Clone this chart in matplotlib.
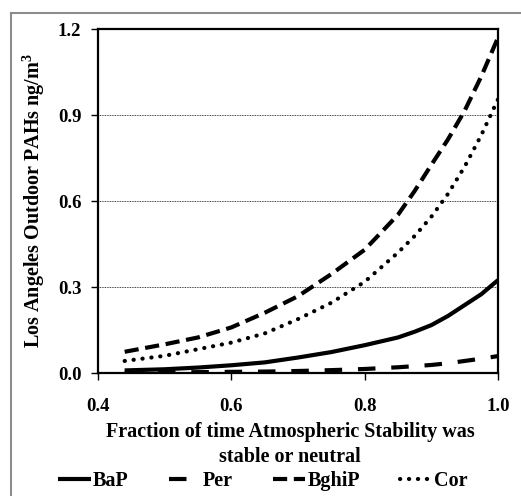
import matplotlib
matplotlib.use("Agg")
import matplotlib.pyplot as plt
from matplotlib.lines import Line2D

x = [0.44, 0.5, 0.55, 0.6, 0.65, 0.7, 0.75, 0.8, 0.85, 0.875, 0.9, 0.925, 0.95, 0.975, 1.0]
bap = [0.009, 0.013, 0.019, 0.027, 0.037, 0.054, 0.073, 0.097, 0.124, 0.144, 0.167, 0.199, 0.237, 0.275, 0.324]
per = [0.002, 0.002, 0.003, 0.004, 0.005, 0.007, 0.010, 0.014, 0.020, 0.024, 0.028, 0.034, 0.042, 0.050, 0.059]
bghip = [0.074, 0.100, 0.124, 0.159, 0.210, 0.268, 0.345, 0.430, 0.552, 0.635, 0.726, 0.815, 0.915, 1.035, 1.170]
cor = [0.042, 0.060, 0.083, 0.106, 0.138, 0.188, 0.245, 0.318, 0.420, 0.478, 0.545, 0.625, 0.720, 0.830, 0.955]

xticks = [0.4, 0.6, 0.8, 1.0]
yticks = [0.0, 0.3, 0.6, 0.9, 1.2]
xlabel = "Fraction of time Atmospheric Stability was\nstable or neutral"
ylabel = "Los Angeles Outdoor PAHs ng/m$^3$"

plt.rcParams['font.family'] = ['Liberation Serif', 'DejaVu Serif']
plt.rcParams['font.weight'] = 'bold'
plt.rcParams['mathtext.fontset'] = 'custom'
plt.rcParams['mathtext.rm'] = 'Liberation Serif:bold'
plt.rcParams['mathtext.it'] = 'Liberation Serif:bold'
plt.rcParams['mathtext.bf'] = 'Liberation Serif:bold'

fig = plt.figure(figsize=(5.21, 4.96), dpi=100)
ax = fig.add_axes([98/521, 1-373/496, 400/521, 344/496])

lw = 3.0
ax.plot(x, bap, color='black', lw=lw, solid_capstyle='butt', label='BaP')
ax.plot(x, per, color='black', lw=lw, linestyle=(0, (4.2, 3.8)), label='Per')
ax.plot(x, bghip, color='black', lw=lw, linestyle=(0, (3.4, 1.6)), label='BghiP')
ax.plot(x, cor, color='black', lw=lw, linestyle=(0, (0.05, 2.1)),
        dash_capstyle='round', label='Cor')

ax.set_xlim(0.4, 1.0)
ax.set_ylim(0.0, 1.2)
ax.set_xticks(xticks)
ax.set_xticklabels([f"{v:.1f}" for v in xticks])
ax.set_yticks(yticks)
ax.set_yticklabels([f"{v:.1f}" for v in yticks])
ax.tick_params(direction='out', length=5, width=1, labelsize=13.5)
ax.tick_params(axis='x', pad=13)
ax.tick_params(axis='y', pad=7)
for side in ['left', 'bottom', 'right', 'top']:
    ax.spines[side].set_linewidth(1.6)
ax.yaxis.grid(True, linestyle=(0, (1, 1)), color='black', linewidth=0.6)
ax.set_axisbelow(True)

ax.set_xlabel(xlabel, fontsize=14.5, fontweight='bold', labelpad=5, linespacing=1.35)
ax.xaxis.label.set_x(0.48)
ax.set_ylabel(ylabel, fontsize=14.5, fontweight='bold', labelpad=8)

fig.legend(loc='center', bbox_to_anchor=(0.505, 1-481/496), ncol=4, frameon=False,
           fontsize=14.5, handlelength=1.6, columnspacing=2.0, handletextpad=0.1)

fig.add_artist(Line2D([11/521, 11/521], [0, 1-13/496], color='#8c8c8c', lw=1.5,
                      transform=fig.transFigure))
fig.add_artist(Line2D([11/521, 1], [1-13/496, 1-13/496], color='#8c8c8c', lw=1.5,
                      transform=fig.transFigure))

fig.savefig("out.png", dpi=100)
